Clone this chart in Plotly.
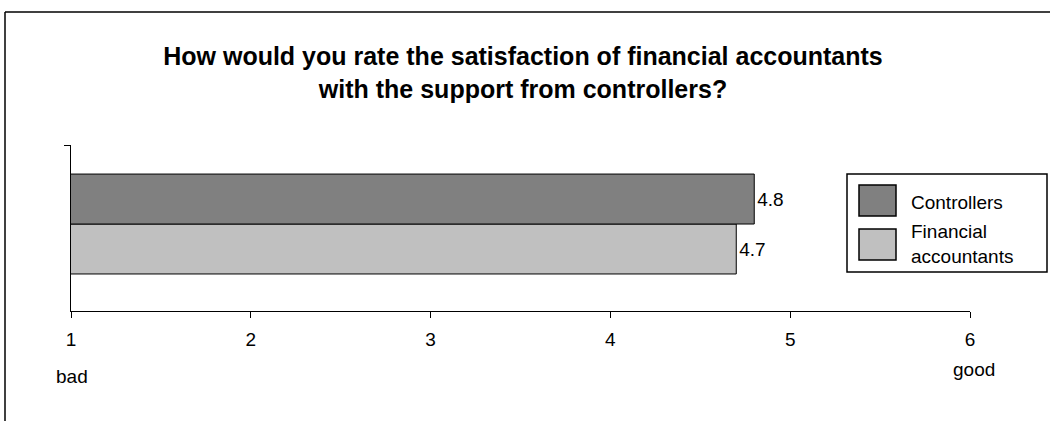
import plotly.graph_objects as go

series = ["Controllers", "Financial accountants"]
values = [4.8, 4.7]
colors = ["#808080", "#c0c0c0"]
x_ticks = [1, 2, 3, 4, 5, 6]
title = "How would you rate the satisfaction of financial accountants<br>with the support from controllers?"

W, H = 1050, 421
L, R, T, B = 71, 80, 145, 110
PW, PH = W - L - R, H - T - B

def px(x):
    return (x - L) / PW

def py(y):
    return (H - B - y) / PH

FONT = "Liberation Sans, Arial, sans-serif"

fig = go.Figure()
# add in reverse so Controllers sits on top
for name, v, c in reversed(list(zip(series, values, colors))):
    fig.add_trace(go.Bar(
        y=[0], x=[v], name=name, orientation="h",
        marker=dict(color=c, line=dict(color="black", width=1)),
        text=[f"{v}"], textposition="outside", cliponaxis=False,
        textfont=dict(size=19, color="black", family=FONT),
        showlegend=False,
    ))

fig.update_layout(
    width=W, height=H,
    margin=dict(l=L, r=R, t=T, b=B),
    paper_bgcolor="white", plot_bgcolor="white",
    barmode="group", bargap=0.398,
    font=dict(family=FONT, size=19, color="black"),
    title=dict(text="<b>" + title + "</b>", x=px(523), xref="paper", xanchor="center",
               y=1 - 65 / H, yanchor="middle", font=dict(size=25, family=FONT)),
    xaxis=dict(range=[1, 6], tickvals=x_ticks, ticks="outside", ticklen=6,
               tickcolor="black", showline=True, linecolor="black", linewidth=1,
               showgrid=False, zeroline=False, ticklabelstandoff=5,
               tickfont=dict(size=19)),
    yaxis=dict(range=[-0.524, 0.476], tickvals=[0.476], ticktext=[""], ticks="outside",
               ticklen=6, tickcolor="black", showline=True, linecolor="black",
               linewidth=1, showgrid=False, zeroline=False, fixedrange=True),
    showlegend=False,
)

shapes = [
    # outer frame
    dict(type="line", xref="paper", yref="paper", x0=px(5), x1=px(5), y0=py(425), y1=py(12),
         line=dict(color="black", width=1.5)),
    dict(type="line", xref="paper", yref="paper", x0=px(5), x1=px(1055), y0=py(12), y1=py(12),
         line=dict(color="black", width=1.5)),
    # legend box
    dict(type="rect", xref="paper", yref="paper", x0=px(847), x1=px(1047), y0=py(272), y1=py(174),
         line=dict(color="black", width=1.5), fillcolor="white"),
    dict(type="rect", xref="paper", yref="paper", x0=px(859), x1=px(896), y0=py(216), y1=py(185),
         line=dict(color="black", width=1.5), fillcolor=colors[0]),
    dict(type="rect", xref="paper", yref="paper", x0=px(859), x1=px(896), y0=py(260), y1=py(229),
         line=dict(color="black", width=1.5), fillcolor=colors[1]),
]
fig.update_layout(shapes=shapes)

annotations = [
    dict(text=series[0], x=px(909), y=py(202), xanchor="left", yanchor="middle", size=19),
    dict(text="Financial<br>accountants", x=px(909), y=py(244), xanchor="left", yanchor="middle",
         align="left", size=19),
    dict(text="bad", x=px(54), y=py(376), xanchor="left", yanchor="middle", size=19),
    dict(text="good", x=px(951), y=py(369), xanchor="left", yanchor="middle", size=19),
]
for a in annotations:
    s = a.pop("size")
    a.update(xref="paper", yref="paper", showarrow=False, font=dict(size=s, family=FONT))
fig.update_layout(annotations=annotations)

fig.write_html("out.html", config={"displayModeBar": False},
               post_script="document.body.style.margin='0';")
